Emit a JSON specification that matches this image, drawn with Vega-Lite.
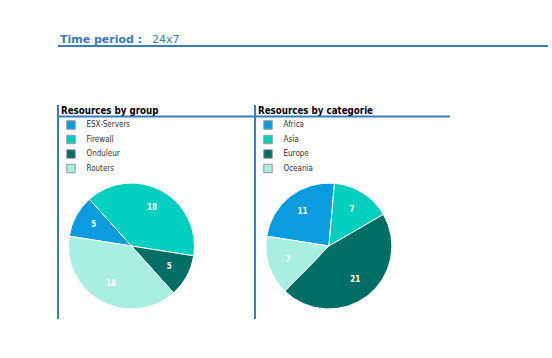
{
  "$schema": "https://vega.github.io/schema/vega-lite/v6.json",
  "padding": {"left": 57, "top": 32, "right": 5, "bottom": 5},
  "background": "white",
  "config": {
    "view": {"stroke": null},
    "font": "DejaVu Sans Condensed",
    "legend": {
      "orient": "none",
      "legendX": 8,
      "legendY": 15,
      "title": null,
      "padding": 0,
      "symbolType": "square",
      "symbolSize": 72,
      "symbolStrokeColor": "#999999",
      "symbolStrokeWidth": 1,
      "labelFont": "DejaVu Sans Condensed",
      "labelFontSize": 8,
      "labelColor": "#333333",
      "labelOffset": 10.5,
      "rowPadding": 0.5
    }
  },
  "datasets": {
    "header": [{"label": "Time period :", "value": "24x7"}],
    "group": [
      {"name": "ESX-Servers", "value": 5},
      {"name": "Firewall", "value": 18},
      {"name": "Onduleur", "value": 5},
      {"name": "Routers", "value": 18}
    ],
    "categorie": [
      {"name": "Africa", "value": 11},
      {"name": "Asia", "value": 7},
      {"name": "Europe", "value": 21},
      {"name": "Oceania", "value": 7}
    ],
    "titles": [{"group": "Resources by group", "categorie": "Resources by categorie"}]
  },
  "resolve": {"scale": {"x": "independent", "y": "independent", "color": "independent", "theta": "independent"}, "legend": {"color": "independent"}},
  "spacing": 57,
  "vconcat": [
    {
      "width": 490,
      "height": 14,
      "data": {"name": "header"},
      "layer": [
        {
          "mark": {"type": "rule", "color": "#3a7dbf", "strokeWidth": 2},
          "encoding": {"y": {"datum": 0, "type": "quantitative", "scale": {"domain": [0, 1]}, "axis": null}}
        },
        {
          "mark": {"type": "text", "align": "left", "baseline": "alphabetic", "font": "DejaVu Sans", "fontSize": 11, "fontWeight": "bold", "color": "#3a7ab8"},
          "encoding": {
            "text": {"field": "label"},
            "x": {"datum": 0.004, "type": "quantitative", "scale": {"domain": [0, 1]}, "axis": null},
            "y": {"datum": 0.2, "type": "quantitative"}
          }
        },
        {
          "mark": {"type": "text", "align": "left", "baseline": "alphabetic", "font": "DejaVu Sans", "fontSize": 11, "fontWeight": "normal", "color": "#3a7ab8"},
          "encoding": {
            "text": {"field": "value"},
            "x": {"datum": 0.192, "type": "quantitative"},
            "y": {"datum": 0.2, "type": "quantitative"}
          }
        }
      ]
    },
    {
      "spacing": -1,
      "resolve": {"scale": {"x": "independent", "y": "independent", "color": "independent", "theta": "independent"}, "legend": {"color": "independent"}},
      "hconcat": [
        {
          "width": 196,
          "height": 214,
          "data": {"name": "group"},
          "layer": [
            {
              "data": {"name": "titles"},
              "mark": {"type": "rule", "color": "#3a7dbf", "strokeWidth": 2},
              "encoding": {"x": {"datum": 0, "type": "quantitative", "scale": {"domain": [0, 1]}, "axis": null}}
            },
            {
              "data": {"name": "titles"},
              "mark": {"type": "rule", "color": "#3a7dbf", "strokeWidth": 2},
              "encoding": {"y": {"datum": 0.054, "type": "quantitative", "scale": {"domain": [0, 1], "reverse": true}, "axis": null}}
            },
            {
              "data": {"name": "titles"},
              "mark": {"type": "text", "align": "left", "baseline": "alphabetic", "fontSize": 9.7, "fontWeight": "bold", "color": "#000000"},
              "encoding": {
                "text": {"field": "group"},
                "x": {"datum": 0.015, "type": "quantitative"},
                "y": {"datum": 0.044, "type": "quantitative"}
              }
            },
            {
              "mark": {"type": "arc", "outerRadius": 63, "stroke": "white", "strokeWidth": 1},
              "encoding": {
                "theta": {"field": "value", "type": "quantitative", "stack": true, "scale": {"range": [-1.414, 4.869]}},
                "order": {"field": "name", "type": "ordinal"},
                "color": {
                  "field": "name",
                  "type": "nominal",
                  "scale": {"domain": ["ESX-Servers", "Firewall", "Onduleur", "Routers"], "range": ["#0b9ce0", "#00cfc0", "#006e64", "#a8eee1"]},
                  "legend": {"symbolSize": 72, "symbolStrokeColor": "#999999", "symbolStrokeWidth": 1, "encode": {"symbols": {"update": {"stroke": {"value": "#999999"}, "strokeWidth": {"value": 1}, "size": {"value": 72}, "shape": {"value": "square"}}}}}
                },
                "x": {"datum": 0.375, "type": "quantitative"},
                "y": {"datum": 0.659, "type": "quantitative"}
              }
            },
            {
              "mark": {"type": "text", "radius": 43, "color": "white", "fontSize": 8, "fontWeight": "bold"},
              "encoding": {
                "theta": {"field": "value", "type": "quantitative", "stack": true},
                "order": {"field": "name", "type": "ordinal"},
                "detail": {"field": "name", "type": "nominal"},
                "text": {"field": "value", "type": "quantitative"},
                "x": {"datum": 0.375, "type": "quantitative"},
                "y": {"datum": 0.659, "type": "quantitative"}
              }
            }
          ]
        },
        {
          "width": 195,
          "height": 214,
          "data": {"name": "categorie"},
          "layer": [
            {
              "data": {"name": "titles"},
              "mark": {"type": "rule", "color": "#3a7dbf", "strokeWidth": 2},
              "encoding": {"x": {"datum": 0, "type": "quantitative", "scale": {"domain": [0, 1]}, "axis": null}}
            },
            {
              "data": {"name": "titles"},
              "mark": {"type": "rule", "color": "#3a7dbf", "strokeWidth": 2},
              "encoding": {"y": {"datum": 0.054, "type": "quantitative", "scale": {"domain": [0, 1], "reverse": true}, "axis": null}}
            },
            {
              "data": {"name": "titles"},
              "mark": {"type": "text", "align": "left", "baseline": "alphabetic", "fontSize": 9.7, "fontWeight": "bold", "color": "#000000"},
              "encoding": {
                "text": {"field": "categorie"},
                "x": {"datum": 0.015, "type": "quantitative"},
                "y": {"datum": 0.044, "type": "quantitative"}
              }
            },
            {
              "mark": {"type": "arc", "outerRadius": 63, "stroke": "white", "strokeWidth": 1},
              "encoding": {
                "theta": {"field": "value", "type": "quantitative", "stack": true, "scale": {"range": [-1.414, 4.869]}},
                "order": {"field": "name", "type": "ordinal"},
                "color": {
                  "field": "name",
                  "type": "nominal",
                  "scale": {"domain": ["Africa", "Asia", "Europe", "Oceania"], "range": ["#0b9ce0", "#00cfc0", "#006e64", "#a8eee1"]},
                  "legend": {"symbolSize": 72, "symbolStrokeColor": "#999999", "symbolStrokeWidth": 1, "encode": {"symbols": {"update": {"stroke": {"value": "#999999"}, "strokeWidth": {"value": 1}, "size": {"value": 72}, "shape": {"value": "square"}}}}}
                },
                "x": {"datum": 0.379, "type": "quantitative"},
                "y": {"datum": 0.659, "type": "quantitative"}
              }
            },
            {
              "mark": {"type": "text", "radius": 43, "color": "white", "fontSize": 8, "fontWeight": "bold"},
              "encoding": {
                "theta": {"field": "value", "type": "quantitative", "stack": true},
                "order": {"field": "name", "type": "ordinal"},
                "detail": {"field": "name", "type": "nominal"},
                "text": {"field": "value", "type": "quantitative"},
                "x": {"datum": 0.379, "type": "quantitative"},
                "y": {"datum": 0.659, "type": "quantitative"}
              }
            }
          ]
        }
      ]
    }
  ]
}
